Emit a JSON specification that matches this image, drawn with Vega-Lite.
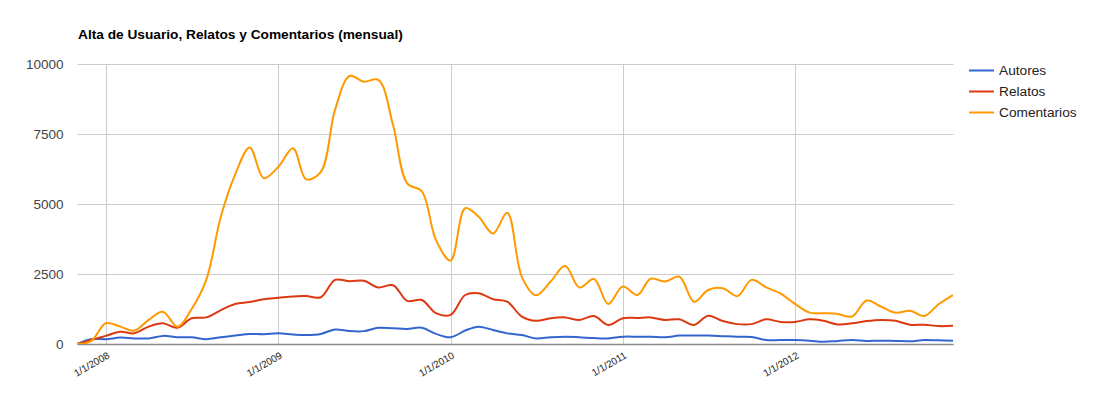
{
  "$schema": "https://vega.github.io/schema/vega-lite/v6.json",
  "width": 876,
  "height": 280,
  "autosize": {"type": "none"},
  "padding": {"left": 77, "top": 64, "right": 147, "bottom": 55},
  "background": "white",
  "config": {
    "font": "Liberation Sans",
    "view": {"stroke": null}
  },
  "title": {
    "text": "Alta de Usuario, Relatos y Comentarios (mensual)",
    "anchor": "start",
    "frame": "group",
    "fontSize": 13.7,
    "fontWeight": "bold",
    "color": "#000000",
    "offset": 15,
    "dx": 1
  },
  "data": {
    "values": [
      {"date": "2007-11-01T00:00", "Autores": 0, "Relatos": 0, "Comentarios": 0},
      {"date": "2007-12-01T00:00", "Autores": 170, "Relatos": 140, "Comentarios": 100},
      {"date": "2008-01-01T00:00", "Autores": 170, "Relatos": 290, "Comentarios": 740},
      {"date": "2008-02-01T00:00", "Autores": 230, "Relatos": 440, "Comentarios": 620},
      {"date": "2008-03-01T00:00", "Autores": 200, "Relatos": 380, "Comentarios": 475},
      {"date": "2008-04-01T00:00", "Autores": 200, "Relatos": 620, "Comentarios": 860},
      {"date": "2008-05-01T00:00", "Autores": 290, "Relatos": 740, "Comentarios": 1155},
      {"date": "2008-06-01T00:00", "Autores": 240, "Relatos": 580, "Comentarios": 620},
      {"date": "2008-07-01T00:00", "Autores": 240, "Relatos": 920, "Comentarios": 1250},
      {"date": "2008-08-01T00:00", "Autores": 170, "Relatos": 950, "Comentarios": 2290},
      {"date": "2008-09-01T00:00", "Autores": 240, "Relatos": 1210, "Comentarios": 4550},
      {"date": "2008-10-01T00:00", "Autores": 300, "Relatos": 1430, "Comentarios": 6040},
      {"date": "2008-11-01T00:00", "Autores": 360, "Relatos": 1500, "Comentarios": 7020},
      {"date": "2008-12-01T00:00", "Autores": 350, "Relatos": 1600, "Comentarios": 5920},
      {"date": "2009-01-01T00:00", "Autores": 380, "Relatos": 1650, "Comentarios": 6330},
      {"date": "2009-02-01T00:00", "Autores": 340, "Relatos": 1700, "Comentarios": 6990},
      {"date": "2009-03-01T00:00", "Autores": 320, "Relatos": 1710, "Comentarios": 5880},
      {"date": "2009-04-01T00:00", "Autores": 360, "Relatos": 1670, "Comentarios": 6150},
      {"date": "2009-05-01T00:00", "Autores": 520, "Relatos": 2290, "Comentarios": 8360},
      {"date": "2009-06-01T00:00", "Autores": 460, "Relatos": 2240, "Comentarios": 9570},
      {"date": "2009-07-01T00:00", "Autores": 460, "Relatos": 2260, "Comentarios": 9370},
      {"date": "2009-08-01T00:00", "Autores": 580, "Relatos": 2020, "Comentarios": 9430},
      {"date": "2009-09-01T00:00", "Autores": 560, "Relatos": 2100, "Comentarios": 7820},
      {"date": "2009-10-01T00:00", "Autores": 540, "Relatos": 1540, "Comentarios": 5740},
      {"date": "2009-11-01T00:00", "Autores": 580, "Relatos": 1570, "Comentarios": 5450},
      {"date": "2009-12-01T00:00", "Autores": 360, "Relatos": 1100, "Comentarios": 3710},
      {"date": "2010-01-01T00:00", "Autores": 240, "Relatos": 1040, "Comentarios": 2980},
      {"date": "2010-02-01T00:00", "Autores": 480, "Relatos": 1750, "Comentarios": 4850},
      {"date": "2010-03-01T00:00", "Autores": 620, "Relatos": 1810, "Comentarios": 4550},
      {"date": "2010-04-01T00:00", "Autores": 500, "Relatos": 1600, "Comentarios": 3950},
      {"date": "2010-05-01T00:00", "Autores": 380, "Relatos": 1510, "Comentarios": 4690},
      {"date": "2010-06-01T00:00", "Autores": 320, "Relatos": 980, "Comentarios": 2400},
      {"date": "2010-07-01T00:00", "Autores": 200, "Relatos": 830, "Comentarios": 1740},
      {"date": "2010-08-01T00:00", "Autores": 240, "Relatos": 920, "Comentarios": 2230},
      {"date": "2010-09-01T00:00", "Autores": 260, "Relatos": 950, "Comentarios": 2790},
      {"date": "2010-10-01T00:00", "Autores": 240, "Relatos": 860, "Comentarios": 2020},
      {"date": "2010-11-01T00:00", "Autores": 210, "Relatos": 1000, "Comentarios": 2320},
      {"date": "2010-12-01T00:00", "Autores": 200, "Relatos": 680, "Comentarios": 1430},
      {"date": "2011-01-01T00:00", "Autores": 260, "Relatos": 920, "Comentarios": 2050},
      {"date": "2011-02-01T00:00", "Autores": 260, "Relatos": 930, "Comentarios": 1750},
      {"date": "2011-03-01T00:00", "Autores": 260, "Relatos": 950, "Comentarios": 2330},
      {"date": "2011-04-01T00:00", "Autores": 240, "Relatos": 860, "Comentarios": 2230},
      {"date": "2011-05-01T00:00", "Autores": 300, "Relatos": 880, "Comentarios": 2400},
      {"date": "2011-06-01T00:00", "Autores": 300, "Relatos": 680, "Comentarios": 1510},
      {"date": "2011-07-01T00:00", "Autores": 300, "Relatos": 1010, "Comentarios": 1930},
      {"date": "2011-08-01T00:00", "Autores": 280, "Relatos": 820, "Comentarios": 1990},
      {"date": "2011-09-01T00:00", "Autores": 260, "Relatos": 710, "Comentarios": 1710},
      {"date": "2011-10-01T00:00", "Autores": 250, "Relatos": 710, "Comentarios": 2290},
      {"date": "2011-11-01T00:00", "Autores": 140, "Relatos": 880, "Comentarios": 2020},
      {"date": "2011-12-01T00:00", "Autores": 140, "Relatos": 790, "Comentarios": 1810},
      {"date": "2012-01-01T00:00", "Autores": 140, "Relatos": 790, "Comentarios": 1430},
      {"date": "2012-02-01T00:00", "Autores": 120, "Relatos": 880, "Comentarios": 1120},
      {"date": "2012-03-01T00:00", "Autores": 80, "Relatos": 830, "Comentarios": 1100},
      {"date": "2012-04-01T00:00", "Autores": 110, "Relatos": 700, "Comentarios": 1070},
      {"date": "2012-05-01T00:00", "Autores": 140, "Relatos": 740, "Comentarios": 980},
      {"date": "2012-06-01T00:00", "Autores": 110, "Relatos": 820, "Comentarios": 1550},
      {"date": "2012-07-01T00:00", "Autores": 120, "Relatos": 860, "Comentarios": 1340},
      {"date": "2012-08-01T00:00", "Autores": 110, "Relatos": 830, "Comentarios": 1120},
      {"date": "2012-09-01T00:00", "Autores": 100, "Relatos": 690, "Comentarios": 1190},
      {"date": "2012-10-01T00:00", "Autores": 140, "Relatos": 690, "Comentarios": 1000},
      {"date": "2012-11-01T00:00", "Autores": 130, "Relatos": 640, "Comentarios": 1430},
      {"date": "2012-12-01T00:00", "Autores": 120, "Relatos": 650, "Comentarios": 1750}
    ]
  },
  "transform": [
    {"fold": ["Autores", "Relatos", "Comentarios"], "as": ["serie", "valor"]}
  ],
  "mark": {"type": "line", "interpolate": "catmull-rom", "strokeWidth": 2, "clip": true},
  "encoding": {
    "x": {
      "field": "date",
      "type": "temporal",
      "scale": {"domain": [{"year": 2007, "month": 11, "date": 1}, {"year": 2012, "month": 12, "date": 1}]},
      "axis": {
        "title": null,
        "values": [
          {"year": 2008, "month": 1, "date": 1},
          {"year": 2009, "month": 1, "date": 1},
          {"year": 2010, "month": 1, "date": 1},
          {"year": 2011, "month": 1, "date": 1},
          {"year": 2012, "month": 1, "date": 1}
        ],
        "format": "%-m/%-d/%Y",
        "labelAngle": -30,
        "labelAlign": "right",
        "labelBaseline": "top",
        "labelFontSize": 10,
        "labelColor": "#222222",
        "labelPadding": 6,
        "ticks": false,
        "grid": true,
        "gridColor": "#cccccc",
        "domain": true,
        "domainColor": "#888888",
        "domainWidth": 1.5
      }
    },
    "y": {
      "field": "valor",
      "type": "quantitative",
      "scale": {"domain": [0, 10000], "nice": false},
      "axis": {
        "title": null,
        "values": [0, 2500, 5000, 7500, 10000],
        "format": "d",
        "labelFontSize": 13.5,
        "labelColor": "#444444",
        "labelPadding": 14,
        "ticks": false,
        "domain": false,
        "grid": true,
        "gridColor": "#cccccc"
      }
    },
    "color": {
      "field": "serie",
      "type": "nominal",
      "scale": {"domain": ["Autores", "Relatos", "Comentarios"], "range": ["#3366cc", "#dc3912", "#ff9900"]},
      "legend": {
        "title": null,
        "orient": "none",
        "legendX": 891,
        "legendY": -7,
        "symbolType": "stroke",
        "symbolSize": 625,
        "symbolStrokeWidth": 2,
        "labelFontSize": 13.7,
        "labelColor": "#222222",
        "labelOffset": 4,
        "rowPadding": -1.5
      }
    }
  }
}
